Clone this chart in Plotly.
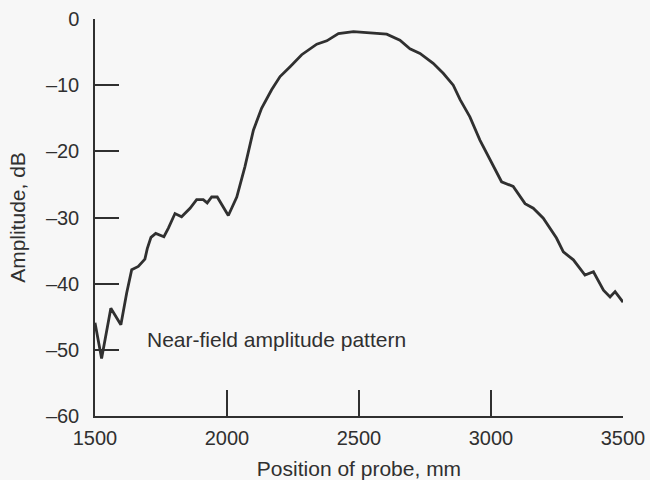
import plotly.graph_objects as go

position_mm = [1500, 1525, 1560, 1598, 1620, 1639, 1664, 1689, 1698, 1712, 1730, 1761, 1778,
               1803, 1828, 1860, 1885, 1910, 1925, 1942, 1963, 1984, 2005, 2037, 2068, 2100,
               2131, 2169, 2201, 2239, 2283, 2340, 2378, 2422, 2479, 2542, 2605, 2655, 2693,
               2731, 2781, 2819, 2857, 2883, 2920, 2958, 2996, 3040, 3084, 3129, 3160, 3198,
               3248, 3274, 3312, 3356, 3388, 3426, 3451, 3470, 3500]
amplitude_db = [-45.9, -51.3, -43.7, -46.2, -41.4, -37.9, -37.4, -36.3, -34.7, -33.0, -32.4, -32.9, -31.6,
                -29.4, -29.9, -28.6, -27.3, -27.3, -27.8, -26.9, -26.9, -28.4, -29.7, -26.9, -22.3, -16.8,
                -13.5, -10.7, -8.7, -7.2, -5.4, -3.8, -3.3, -2.2, -1.9, -2.1, -2.3, -3.2, -4.5,
                -5.2, -6.7, -8.2, -10.0, -12.2, -14.8, -18.3, -21.3, -24.6, -25.3, -27.9, -28.6, -30.1,
                -33.1, -35.2, -36.4, -38.7, -38.2, -41.0, -42.0, -41.2, -42.8]

x_ticks = [1500, 2000, 2500, 3000, 3500]
x_tick_labels = ["1500", "2000", "2500", "3000", "3500"]
y_ticks = [0, -10, -20, -30, -40, -50, -60]
y_tick_labels = ["0", "–10", "–20", "–30", "–40", "–50", "–60"]

ink = "#303030"
bg = "#f7f7f7"
font_family = "Liberation Sans, Arial, sans-serif"

fig = go.Figure(go.Scatter(x=position_mm, y=amplitude_db, mode="lines",
                           line=dict(color=ink, width=2.8), showlegend=False))

fig.update_layout(
    width=650, height=480,
    margin=dict(l=95, r=27, t=19, b=64),
    paper_bgcolor=bg, plot_bgcolor=bg,
    font=dict(family=font_family, size=20, color=ink),
    xaxis=dict(range=[1500, 3500], tickvals=x_ticks, ticktext=x_tick_labels,
               ticks="inside", ticklen=26, tickwidth=1.5, tickcolor=ink,
               tickfont=dict(size=20), ticklabelstandoff=3, automargin=False,
               showline=True, linecolor=ink, linewidth=1.5, showgrid=False, zeroline=False,
               title=dict(text="Position of probe, mm", standoff=16, font=dict(size=21))),
    yaxis=dict(range=[-60, 0], tickvals=y_ticks, ticktext=y_tick_labels,
               ticks="inside", ticklen=24, tickwidth=1.5, tickcolor=ink,
               tickfont=dict(size=20), ticklabelstandoff=10, automargin=False,
               showline=True, linecolor=ink, linewidth=1.5, showgrid=False, zeroline=False,
               title=dict(text="Amplitude, dB", standoff=15, font=dict(size=21))),
    annotations=[dict(x=1690, y=-48.5, xref="x", yref="y", text="Near-field amplitude pattern",
                      showarrow=False, xanchor="left", yanchor="middle",
                      font=dict(size=21, color=ink))],
)

fig.write_html("out.html")
